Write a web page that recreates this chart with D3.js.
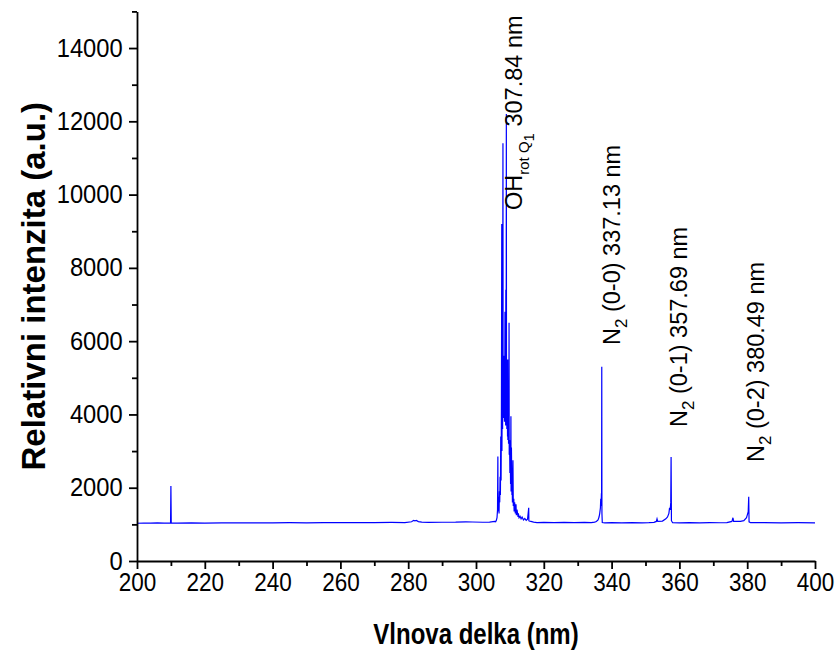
<!DOCTYPE html>
<html>
<head>
<meta charset="utf-8">
<script src="https://cdn.jsdelivr.net/npm/d3@7"></script>
<style>
  body { margin: 0; background: #fff; }
  svg { display: block; }
  text { font-family: Arial, "Liberation Sans", sans-serif; fill: #000; }
</style>
</head>
<body>
<svg id="chart" width="839" height="652"></svg>
<script>
// ── Spectrum ──
const wavelengths = [
  200.0, 202, 204, 206, 208, 209.9, 210.0, 210.1, 212, 216, 220, 225, 230, 235, 240, 245,
  250, 255, 260, 265, 270, 275, 279, 281, 281.6, 282.0, 282.4, 283, 284, 286, 290, 294,
  297, 299, 302, 304, 305.5,
  // OH band
  305.8, 306.0, 306.2, 306.35, 306.45, 306.5, 306.6, 306.7, 306.8, 306.9, 307.0, 307.1,
  307.2, 307.3, 307.4, 307.5, 307.6, 307.65, 307.75, 307.85, 307.95, 308.0, 308.05, 308.1,
  308.15, 308.2, 308.3, 308.4, 308.5, 308.55, 308.6, 308.7, 308.75, 308.8, 308.9, 308.95,
  309.0, 309.05, 309.1, 309.2, 309.3, 309.35, 309.4, 309.5, 309.6, 309.7, 309.75, 309.8,
  309.9, 310.0, 310.1, 310.2, 310.3, 310.35, 310.45, 310.6, 310.65, 310.75, 310.9, 311.0,
  311.15, 311.25, 311.4, 311.6, 311.8, 311.9, 312.1, 312.4, 312.5, 312.7, 313.0, 313.3,
  313.6, 314.0, 314.4, 314.8, 315.2, 315.55, 315.6, 315.7, 316.2, 317, 318,
  320, 323, 326, 329, 332, 334, 335, 335.5, 336.0, 336.3, 336.5, 336.7, 336.8, 336.9,
  337.0, 337.05, 337.1, 337.15, 337.25, 338, 340, 343, 346, 349, 351, 352.5, 353.2, 353.4,
  353.6, 355, 356, 356.5, 356.9, 357.1, 357.3, 357.45, 357.55, 357.65, 358, 360, 363,
  366, 369, 372, 374, 375.5, 375.8, 376.0, 378, 379, 379.8, 380.1, 380.3, 380.45, 380.55,
  381, 385, 390, 395, 400
];
const intensities = [
  1030, 1035, 1032, 1038, 1034, 1036, 2050, 1036, 1033, 1040, 1036, 1041, 1038, 1043, 1040, 1046,
  1042, 1048, 1045, 1050, 1047, 1052, 1050, 1070, 1110, 1095, 1105, 1075, 1060, 1055, 1058, 1060,
  1070, 1065, 1058, 1060, 1080,
  1070, 1110, 1180, 1400, 2850, 1350, 1500, 1750, 1300, 1900, 1600, 2300,
  1800, 3400, 2200, 4100, 9200, 3000, 4800, 3600, 11400, 4200, 5300, 3900,
  5600, 4300, 5000, 3800, 5400, 6800, 4100, 5200, 3700, 7400, 4400, 12200,
  4600, 5500, 3600, 5000, 3400, 5500, 3300, 4700, 3200, 3600, 6500, 2900,
  3300, 2400, 3000, 2100, 3950, 1900, 3100, 1800, 2200, 1600, 2750, 1500,
  1700, 1350, 1600, 1300, 1550, 1250, 1400, 1200, 1300, 1180, 1220, 1150,
  1200, 1120, 1160, 1110, 1140, 1450, 1100, 1090, 1080, 1060, 1050,
  1052, 1048, 1055, 1050, 1053, 1050, 1060, 1080, 1120, 1200, 1300, 1450, 1700, 1500,
  1850, 1700, 5300, 1300, 1050, 1042, 1045, 1040, 1046, 1043, 1048, 1055, 1080, 1150,
  1080, 1090, 1150, 1200, 1300, 1450, 1400, 1600, 2840, 1100, 1045, 1042, 1046,
  1043, 1047, 1044, 1050, 1080, 1180, 1080, 1080, 1100, 1180, 1280, 1350, 1750, 1070,
  1045, 1048, 1042, 1045, 1040
];

// ── Axes ──
const xTicks = [200, 220, 240, 260, 280, 300, 320, 340, 360, 380, 400];
const xMinor = [210, 230, 250, 270, 290, 310, 330, 350, 370, 390];
const yTicks = [0, 2000, 4000, 6000, 8000, 10000, 12000, 14000];
const yMinor = [1000, 3000, 5000, 7000, 9000, 11000, 13000, 15000];

// ── Peak labels: main text, subscript, rest; anchor in data units ──
const labels = [
  { main: 'OH', sub: 'rot Q', subsub: '1', rest: ' 307.84 nm', wl: 313.6, y: 9580 },
  { main: 'N', sub: '2', rest: ' (0-0) 337.13 nm', wl: 342.5, y: 5895 },
  { main: 'N', sub: '2', rest: ' (0-1) 357.69 nm', wl: 362.3, y: 3657 },
  { main: 'N', sub: '2', rest: ' (0-2) 380.49 nm', wl: 385.0, y: 2700 }
];

const svg = d3.select('#chart');
const margin = { left: 137, right: 24, top: 11.4, bottom: 91 };
const W = 839, H = 652;

const x = d3.scaleLinear().domain([200, 400]).range([margin.left, W - margin.right]);
const y = d3.scaleLinear().domain([0, 15000]).range([H - margin.bottom, margin.top]);

// spectrum line
const points = wavelengths.map((w, i) => [w, intensities[i]]);
svg.append('path')
  .datum(points)
  .attr('fill', 'none')
  .attr('stroke', '#0000ff')
  .attr('stroke-width', 1.2)
  .attr('d', d3.line().x(d => x(d[0])).y(d => y(d[1])));

// minor ticks
svg.append('g')
  .attr('transform', `translate(0,${y(0)})`)
  .call(d3.axisBottom(x).tickValues(xMinor).tickSize(5).tickFormat(''))
  .call(g => g.select('.domain').remove());
svg.append('g')
  .attr('transform', `translate(${x(200)},0)`)
  .call(d3.axisLeft(y).tickValues(yMinor).tickSize(5).tickFormat(''))
  .call(g => g.select('.domain').remove());

// major axes
svg.append('g')
  .attr('class', 'x-axis')
  .attr('transform', `translate(0,${y(0)})`)
  .call(d3.axisBottom(x).tickValues(xTicks).tickSize(8).tickSizeOuter(0).tickPadding(4).tickFormat(d3.format('d')));
svg.append('g')
  .attr('class', 'y-axis')
  .attr('transform', `translate(${x(200)},0)`)
  .call(d3.axisLeft(y).tickValues(yTicks).tickSize(8).tickSizeOuter(0).tickPadding(6).tickFormat(d3.format('d')));

svg.selectAll('.tick line, .domain').attr('stroke', '#000').attr('stroke-width', 1.8);
svg.selectAll('.tick text')
  .attr('font-size', 25)
  .attr('font-family', 'Arial, "Liberation Sans", sans-serif')
  .attr('fill', '#000');
// the labels in the picture are a little narrow
svg.selectAll('.x-axis .tick text').attr('transform', 'scale(0.9,1)');
svg.selectAll('.y-axis .tick text').attr('transform', 'translate(-1,0) scale(0.95,1)');

// axis titles
svg.append('text')
  .attr('transform', `translate(${(x(200) + x(400)) / 2},644) scale(0.8,1)`)
  .attr('text-anchor', 'middle')
  .attr('font-size', 30)
  .attr('font-weight', 'bold')
  .text('Vlnova delka (nm)');
svg.append('text')
  .attr('transform', `translate(45,${(y(0) + y(15000)) / 2}) rotate(-90)`)
  .attr('text-anchor', 'middle')
  .attr('font-size', 33)
  .attr('font-weight', 'bold')
  .text('Relativni intenzita (a.u.)');

// peak annotations
labels.forEach(l => {
  const t = svg.append('text')
    .attr('transform', `translate(${x(l.wl)},${y(l.y)}) rotate(-90)`)
    .attr('font-size', 23.5);
  t.append('tspan').text(l.main);
  if (l.subsub) {
    t.append('tspan').attr('font-size', 15).attr('dy', 7).text(l.sub);
    t.append('tspan').attr('font-size', 15).attr('dy', 5).text(l.subsub);
    t.append('tspan').attr('dy', -12).text(l.rest);
  } else {
    t.append('tspan').attr('font-size', 17).attr('dy', 7).text(l.sub);
    t.append('tspan').attr('dy', -7).text(l.rest);
  }
});
</script>
</body>
</html>
